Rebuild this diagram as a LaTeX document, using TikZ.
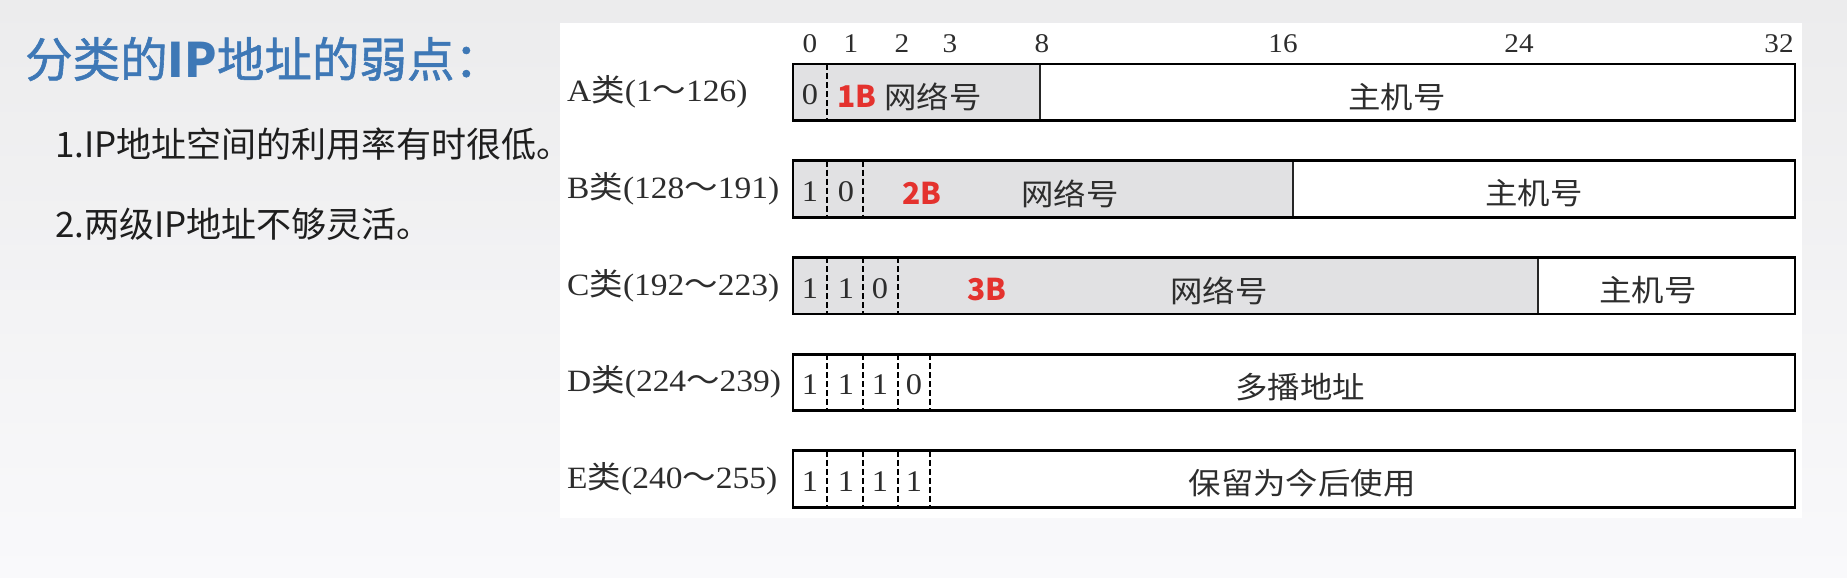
\documentclass[tikz,border=0pt]{standalone}
\usepackage{fontspec}
\usepackage{graphicx}
\setmainfont{Liberation Serif}
\newfontfamily\cjk{Noto Sans CJK SC}
\newfontfamily\cjktitle{Noto Sans CJK SC}[FakeBold=1.2]
\definecolor{bgTop}{RGB}{236,236,237}
\definecolor{bgBot}{RGB}{249,249,251}
\definecolor{titleblue}{RGB}{62,120,182}
\definecolor{bodytxt}{RGB}{30,30,30}
\definecolor{figtxt}{RGB}{45,45,45}
\definecolor{netgray}{RGB}{225,225,227}
\definecolor{tagred}{RGB}{228,50,46}
\newcommand{\sx}[1]{\scalebox{1.08}[1]{#1}}
\tikzset{
  outline/.style={draw=black, line width=2.8pt},
  divider/.style={draw=black!85, line width=1.4pt},
  dashdiv/.style={draw=black, line width=1.3pt, dash pattern=on 6pt off 3pt},
  netcell/.style={fill=netgray},
  bitnum/.style={inner sep=0pt, text=figtxt, font=\fontsize{27}{27}\selectfont},
  rowlabel/.style={inner sep=0pt, anchor=west, text=figtxt, font=\fontsize{31}{31}\selectfont},
  celltxt/.style={inner sep=0pt, text=figtxt, font=\fontsize{30}{30}\selectfont},
  cjktxt/.style={inner sep=0pt, text=figtxt, font=\cjk\fontsize{30}{30}\selectfont},
  redtag/.style={inner sep=0pt, text=tagred, font=\cjk\bfseries\fontsize{30}{30}\selectfont},
  titletxt/.style={inner sep=0pt, anchor=west, text=titleblue, font=\cjktitle\fontsize{47.5}{47.5}\selectfont},
  bodyline/.style={inner sep=0pt, anchor=west, text=bodytxt, font=\cjk\fontsize{35}{35}\selectfont}
}
\begin{document}
\begin{tikzpicture}[x=1pt,y=-1pt]
\useasboundingbox (0,0) rectangle (1847,578);
\shade[top color=bgTop, bottom color=bgBot] (0,0) rectangle (1847,578);
\fill[white] (560,23) rectangle (1802,518);

% left text
\node[titletxt] (title) at (25,59) {分类的{\cjk\bfseries IP}地址的弱点：};
\node[bodyline] (p1) at (55,144) {1.IP地址空间的利用率有时很低。};
\node[bodyline] (p2) at (55,224) {2.两级IP地址不够灵活。};

% bit numbers
\node[bitnum] (b0) at (810,44) {\sx{0}};
\node[bitnum] (b1) at (851,44) {\sx{1}};
\node[bitnum] (b2) at (902,44) {\sx{2}};
\node[bitnum] (b3) at (950,44) {\sx{3}};
\node[bitnum] (b8) at (1042,44) {\sx{8}};
\node[bitnum] (b16) at (1283,44) {\sx{16}};
\node[bitnum] (b24) at (1519,44) {\sx{24}};
\node[bitnum] (b32) at (1779,44) {\sx{32}};

% Row A
\fill[netcell] (793,64) rectangle (1040,120.5);
\draw[dashdiv] (827,64) -- (827,120.5);
\draw[divider] (1040,64) -- (1040,120.5);
\draw[outline] (793,64) rectangle (1795,120.5);
\node[rowlabel] (labA) at (567,92) {\sx{A{\cjk 类}(1{\cjk ～}126)}};
\node[celltxt] (a0) at (810,95) {\sx{0}};
\node[redtag] (a1B) at (857,96) {1B};
\node[cjktxt] (anet) at (933,97) {\sx{网络号}};
\node[cjktxt] (ahost) at (1397,97) {\sx{主机号}};

% Row B
\fill[netcell] (793,160.7) rectangle (1293,217.2);
\draw[dashdiv] (827,160.7) -- (827,217.2);
\draw[dashdiv] (863,160.7) -- (863,217.2);
\draw[divider] (1293,160.7) -- (1293,217.2);
\draw[outline] (793,160.7) rectangle (1795,217.2);
\node[rowlabel] (labB) at (567,189) {\sx{B{\cjk 类}(128{\cjk ～}191)}};
\node[celltxt] (bb0) at (810,191.5) {\sx{1}};
\node[celltxt] (bb1) at (846,191.5) {\sx{0}};
\node[redtag] (b2B) at (922,193) {2B};
\node[cjktxt] (bnet) at (1070,193.5) {\sx{网络号}};
\node[cjktxt] (bhost) at (1534,193.5) {\sx{主机号}};

% Row C
\fill[netcell] (793,257.4) rectangle (1538,313.9);
\draw[dashdiv] (827,257.4) -- (827,313.9);
\draw[dashdiv] (863,257.4) -- (863,313.9);
\draw[dashdiv] (898,257.4) -- (898,313.9);
\draw[divider] (1538,257.4) -- (1538,313.9);
\draw[outline] (793,257.4) rectangle (1795,313.9);
\node[rowlabel] (labC) at (567,286) {\sx{C{\cjk 类}(192{\cjk ～}223)}};
\node[celltxt] (cc0) at (810,288.5) {\sx{1}};
\node[celltxt] (cc1) at (846,288.5) {\sx{1}};
\node[celltxt] (cc2) at (880,288.5) {\sx{0}};
\node[redtag] (c3B) at (987,290) {3B};
\node[cjktxt] (cnet) at (1219,290.5) {\sx{网络号}};
\node[cjktxt] (chost) at (1648,290.5) {\sx{主机号}};

% Row D
\draw[dashdiv] (827,354.1) -- (827,410.6);
\draw[dashdiv] (863,354.1) -- (863,410.6);
\draw[dashdiv] (898,354.1) -- (898,410.6);
\draw[dashdiv] (930,354.1) -- (930,410.6);
\draw[outline] (793,354.1) rectangle (1795,410.6);
\node[rowlabel] (labD) at (567,382) {\sx{D{\cjk 类}(224{\cjk ～}239)}};
\node[celltxt] (dd0) at (810,385) {\sx{1}};
\node[celltxt] (dd1) at (846,385) {\sx{1}};
\node[celltxt] (dd2) at (880,385) {\sx{1}};
\node[celltxt] (dd3) at (914,385) {\sx{0}};
\node[cjktxt] (dtxt) at (1300,387) {\sx{多播地址}};

% Row E
\draw[dashdiv] (827,450.8) -- (827,507.3);
\draw[dashdiv] (863,450.8) -- (863,507.3);
\draw[dashdiv] (898,450.8) -- (898,507.3);
\draw[dashdiv] (930,450.8) -- (930,507.3);
\draw[outline] (793,450.8) rectangle (1795,507.3);
\node[rowlabel] (labE) at (567,479) {\sx{E{\cjk 类}(240{\cjk ～}255)}};
\node[celltxt] (ee0) at (810,481.5) {\sx{1}};
\node[celltxt] (ee1) at (846,481.5) {\sx{1}};
\node[celltxt] (ee2) at (880,481.5) {\sx{1}};
\node[celltxt] (ee3) at (914,481.5) {\sx{1}};
\node[cjktxt] (etxt) at (1302,483.5) {\sx{保留为今后使用}};
\end{tikzpicture}
\end{document}
